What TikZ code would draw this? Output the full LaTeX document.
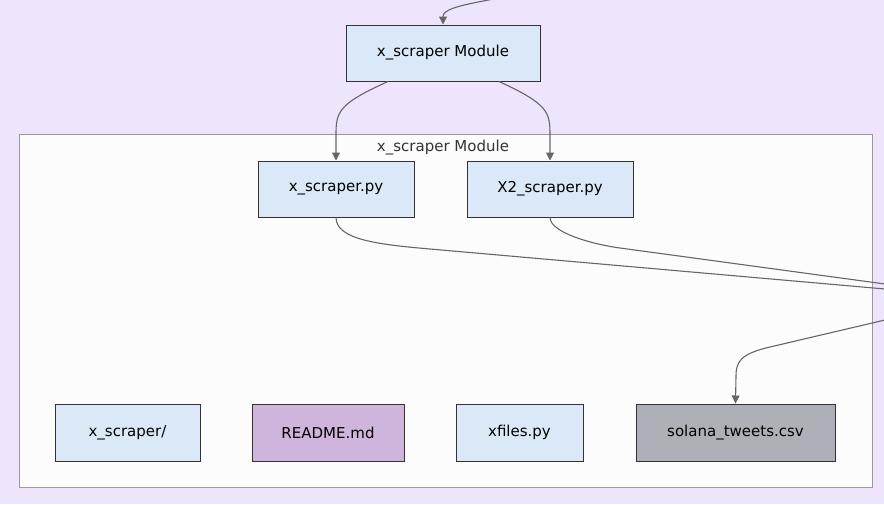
\documentclass[tikz,border=0pt]{standalone}
\usepackage{fontspec}
\setmainfont{DejaVu Sans}
\usepackage{tikz}
\usetikzlibrary{arrows.meta, positioning}
\definecolor{bglavender}{HTML}{EEE4FC}
\definecolor{clusterfill}{HTML}{FCFCFC}
\definecolor{clusterline}{HTML}{9A9A9A}
\definecolor{pyblue}{HTML}{DAE8F7}
\definecolor{mdpurple}{HTML}{CFB5DB}
\definecolor{csvgray}{HTML}{ADB0B6}
\definecolor{edgegray}{HTML}{666666}
\definecolor{textdark}{HTML}{333333}

\begin{document}
\begin{tikzpicture}[
    x=1pt, y=-1pt,
    file/.style={rectangle, draw=textdark, fill=pyblue, line width=1pt, inner sep=0pt, minimum height=56pt, font=\fontsize{15}{18}\selectfont, text=black},
    mdfile/.style={file, fill=mdpurple},
    csvfile/.style={file, fill=csvgray},
    cluster/.style={draw=clusterline, fill=clusterfill, line width=1pt},
    link/.style={edgegray, line width=1.1pt},
    arrow/.style={link, -{Triangle[length=8pt, width=8pt]}},
    label/.style={font=\fontsize{15}{18}\selectfont, text=textdark}
]
    % Background and bounding box
    \fill[bglavender] (0,0) rectangle (884,504);
    \useasboundingbox (0,0) rectangle (884,504);

    % Module cluster
    \draw[cluster] (19,134) rectangle (872,487);
    \node[label] (cluster_title) at (443,148) {x\_scraper Module};

    % Module node
    \node[file, minimum width=194pt] (module) at (443,53) {x\_scraper Module};

    % Scraper scripts
    \node[file, minimum width=156pt] (x_scraper) at (336,189) {x\_scraper.py};
    \node[file, minimum width=166pt] (x2_scraper) at (550,189) {X2\_scraper.py};

    % Bottom row of files
    \node[file, minimum width=145pt, minimum height=57pt] (x_dir) at (127.5,432.5) {x\_scraper/};
    \node[mdfile, minimum width=152pt, minimum height=57pt] (readme) at (328,432.5) {README.md};
    \node[file, minimum width=127pt, minimum height=57pt] (xfiles) at (519.5,432.5) {xfiles.py};
    \node[csvfile, minimum width=199pt, minimum height=57pt] (solana) at (735.5,432.5) {solana\_tweets.csv};

    % Free ends outside the picture
    \coordinate (in_top) at (494,-1);
    \coordinate (out_a) at (885,289);
    \coordinate (out_b) at (885,284);
    \coordinate (in_csv) at (885,320);

    % Incoming edge to module
    \draw[arrow] (in_top) .. controls (455,6) and (443,10) .. (module.north);

    % Module to scripts
    \draw[arrow] ([xshift=-55pt]module.south) .. controls (338,104) and (336,112) .. (336,135) -- (x_scraper.north);
    \draw[arrow] ([xshift=56pt]module.south) .. controls (548,104) and (550,112) .. (550,135) -- (x2_scraper.north);

    % Scripts leaving the cluster
    \draw[link] (x_scraper.south) .. controls (336,240) and (380,244.6) .. (430,249) -- (out_a);
    \draw[link] (x2_scraper.south) .. controls (550,232) and (590,243.9) .. (620,248) -- (out_b);

    % Into the csv file
    \draw[arrow] (in_csv) -- (770,347) .. controls (740,354) and (736,362) .. (736,376) -- (solana.north);
\end{tikzpicture}
\end{document}
